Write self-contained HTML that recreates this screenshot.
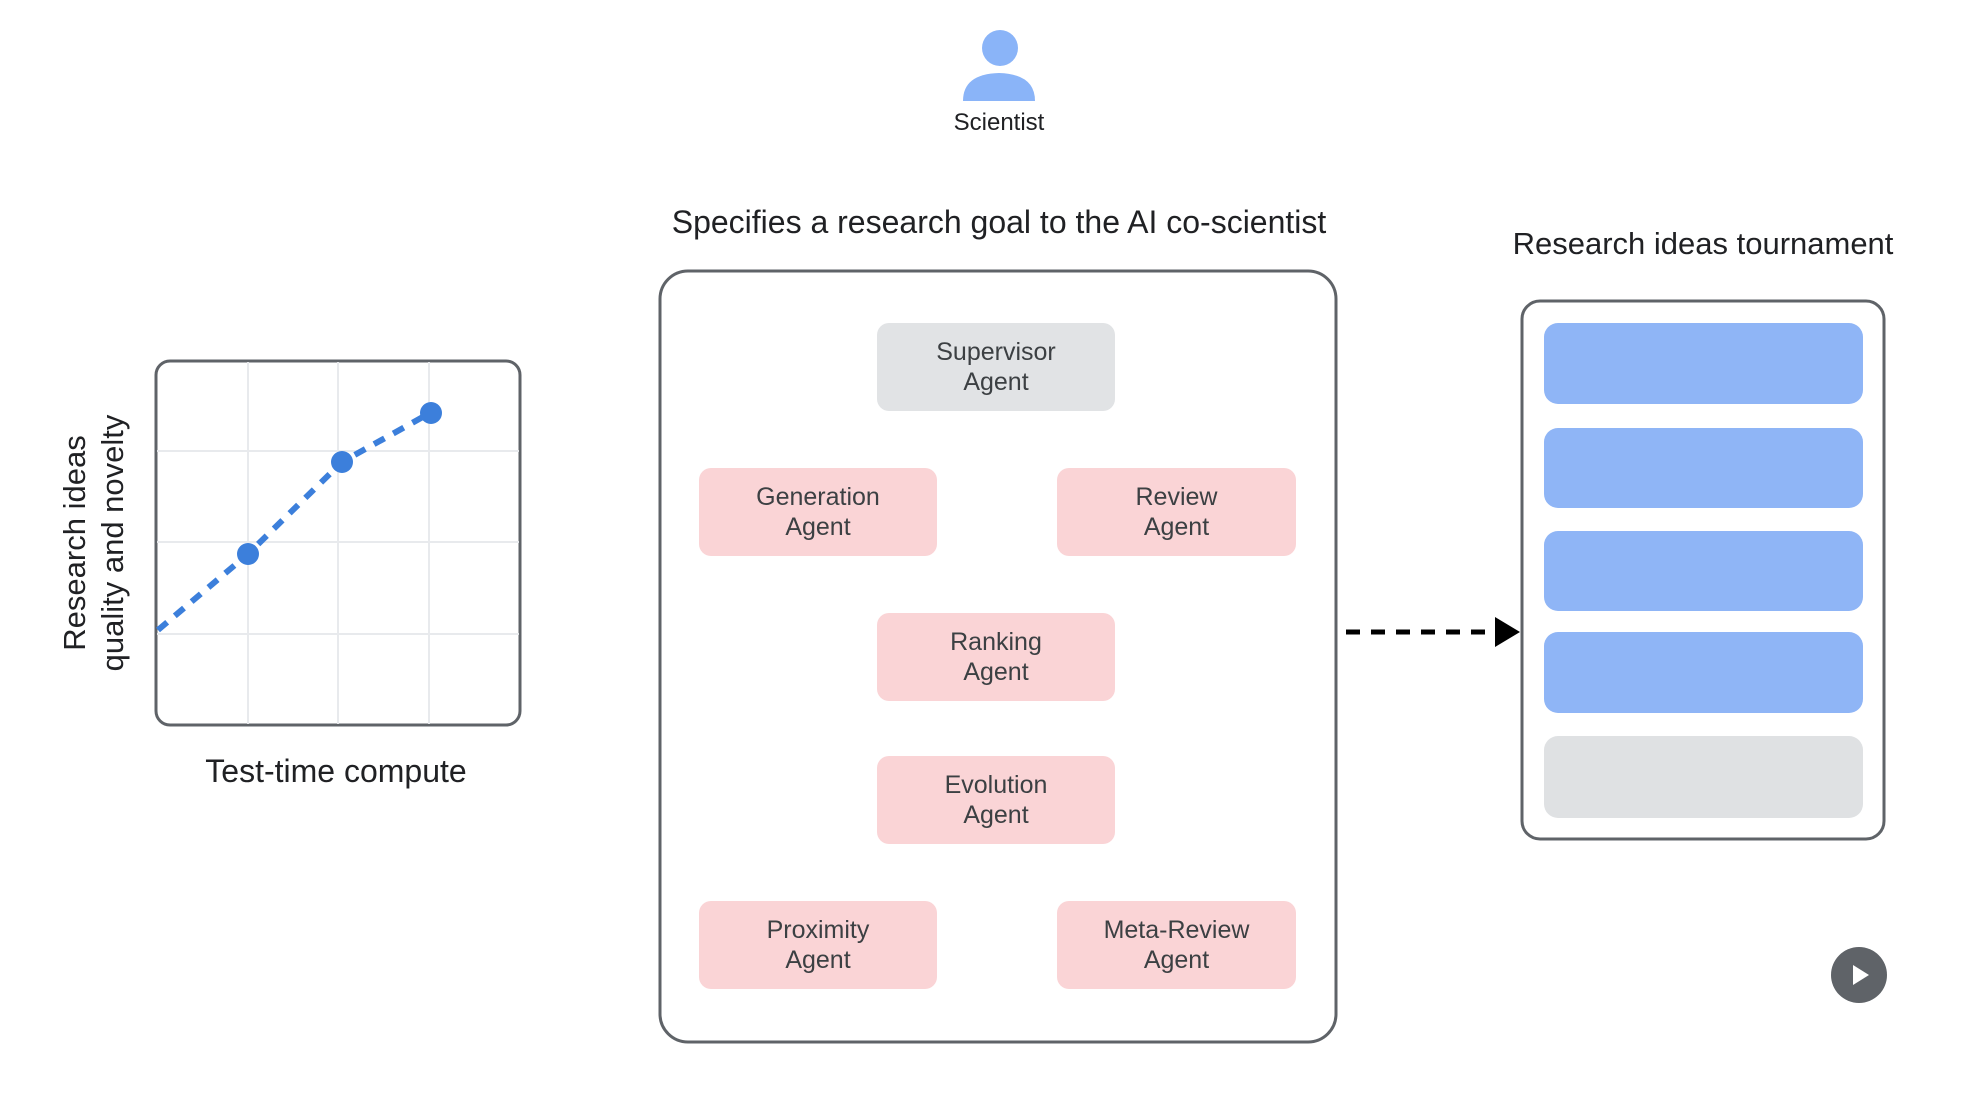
<!DOCTYPE html>
<html><head><meta charset="utf-8"><style>
body{margin:0;width:1972px;height:1098px;background:#fff;position:relative;overflow:hidden;font-family:"Liberation Sans",sans-serif;color:#202124}
.a{position:absolute;box-sizing:border-box;display:flex;align-items:center;justify-content:center;text-align:center;border-radius:12px;font-size:25px;line-height:30px;color:#3c4043}
.p{background:#fad4d6}
.t{position:absolute;white-space:nowrap;transform:translateX(-50%)}
.bar{position:absolute;left:1544px;width:319px;border-radius:14px;background:#8fb5f6}
</style></head><body>
<svg width="1972" height="1098" style="position:absolute;left:0;top:0">
<circle cx="1000" cy="48" r="18" fill="#8ab4f8"/>
<path d="M963 101 Q963 74 999 73 Q1035 74 1035 101 Z" fill="#8ab4f8"/>
<rect x="156" y="361" width="364" height="364" rx="14" fill="#fff" stroke="#5f6368" stroke-width="3"/>
<g stroke="#e8eaed" stroke-width="2">
<line x1="248" y1="362" x2="248" y2="724"/><line x1="338" y1="362" x2="338" y2="724"/><line x1="429" y1="362" x2="429" y2="724"/>
<line x1="157" y1="451" x2="519" y2="451"/><line x1="157" y1="542" x2="519" y2="542"/><line x1="157" y1="634" x2="519" y2="634"/>
</g>
<polyline points="158,630 248,554 342,462 430,413" fill="none" stroke="#3c7fdb" stroke-width="6" stroke-dasharray="12,10"/>
<circle cx="248" cy="554" r="11" fill="#3c7fdb"/><circle cx="342" cy="462" r="11" fill="#3c7fdb"/><circle cx="431" cy="413" r="11" fill="#3c7fdb"/>
<rect x="660" y="271" width="676" height="771" rx="28" fill="none" stroke="#5f6368" stroke-width="3"/>
<rect x="1522" y="301" width="362" height="538" rx="18" fill="none" stroke="#5f6368" stroke-width="3"/>
<line x1="1346" y1="632" x2="1498" y2="632" stroke="#000" stroke-width="5" stroke-dasharray="14,11"/>
<polygon points="1495,617 1520,632 1495,647" fill="#000"/>
<circle cx="1859" cy="975" r="28" fill="#5f6368"/>
<polygon points="1853,965 1869,975 1853,985" fill="#fff"/>
</svg>
<div class="t" style="left:999px;top:109px;font-size:24px">Scientist</div>
<div class="t" style="left:999px;top:204px;font-size:32px">Specifies a research goal to the AI co-scientist</div>
<div class="t" style="left:1703px;top:226px;font-size:31px">Research ideas tournament</div>
<div class="t" style="left:336px;top:753px;font-size:32px">Test-time compute</div>
<div style="position:absolute;left:94px;top:543px;width:0;height:0">
<div style="position:absolute;transform:translate(-50%,-50%) rotate(-90deg);white-space:nowrap;font-size:31px;line-height:38px;text-align:center">Research ideas<br>quality and novelty</div></div>
<div class="a" style="left:877px;top:323px;width:238px;height:88px;background:#e1e3e5">Supervisor<br>Agent</div>
<div class="a p" style="left:699px;top:468px;width:238px;height:88px">Generation<br>Agent</div>
<div class="a p" style="left:1057px;top:468px;width:239px;height:88px">Review<br>Agent</div>
<div class="a p" style="left:877px;top:613px;width:238px;height:88px">Ranking<br>Agent</div>
<div class="a p" style="left:877px;top:756px;width:238px;height:88px">Evolution<br>Agent</div>
<div class="a p" style="left:699px;top:901px;width:238px;height:88px">Proximity<br>Agent</div>
<div class="a p" style="left:1057px;top:901px;width:239px;height:88px">Meta-Review<br>Agent</div>
<div class="bar" style="top:323px;height:81px"></div>
<div class="bar" style="top:428px;height:80px"></div>
<div class="bar" style="top:531px;height:80px"></div>
<div class="bar" style="top:632px;height:81px"></div>
<div class="bar" style="top:736px;height:82px;background:#dfe1e3"></div>
</body></html>
